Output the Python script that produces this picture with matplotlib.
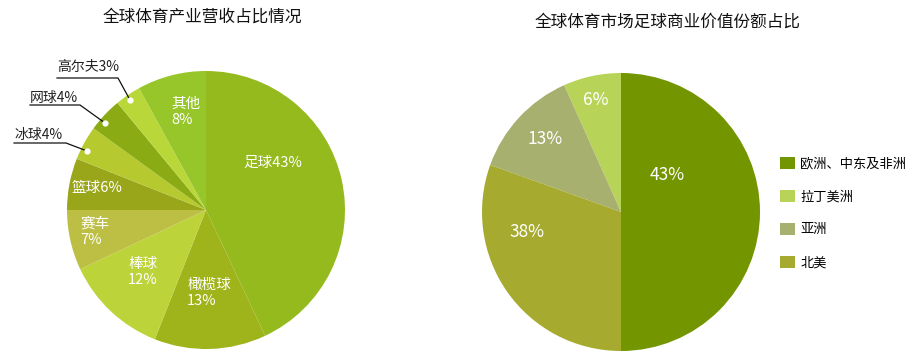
import matplotlib
matplotlib.use('Agg')
import matplotlib.pyplot as plt

plt.rcParams['font.family'] = ['Noto Sans CJK SC', 'DejaVu Sans']

# 左图：全球体育产业营收占比
sports = ['足球', '橄榄球', '棒球', '赛车', '篮球', '冰球', '网球', '高尔夫', '其他']
sports_share = [43, 13, 12, 7, 6, 4, 4, 3, 8]
sports_colors = ['#95ba1e', '#9fb31a', '#bdd33a', '#bdbf45', '#9aa61a',
                 '#b6c92e', '#8aab14', '#bad73a', '#97c62a']

# 右图：足球商业价值份额（扇区按原图面积量取，标签为原图文字）
regions = ['欧洲、中东及非洲', '拉丁美洲', '亚洲', '北美']
region_area = [50, 6.7, 12.8, 30.5]
region_labels = ['43%', '6%', '13%', '38%']
region_colors = ['#739600', '#b8d458', '#a8b070', '#a6ab30']

W, H = 906, 360
fig = plt.figure(figsize=(W / 100, H / 100), dpi=100)
ax = fig.add_axes([0, 0, 1, 1])


def py(y):
    # 以像素为单位（从顶部算起）转换成数据坐标
    return H - y


# 左饼图
c1 = (206, py(210))
wedges1, _ = ax.pie(sports_share, colors=sports_colors, startangle=90,
                    counterclock=False, center=c1, radius=139,
                    wedgeprops=dict(linewidth=0))

# 扇区内文字
inner = {
    '足球': ((273, 163), 'center', '足球43%'),
    '橄榄球': ((209, 293), 'center', '橄榄球\n13%'),
    '棒球': ((143, 272), 'center', '棒球\n12%'),
    '赛车': ((80, 232), 'left', '赛车\n7%'),
    '篮球': ((97, 188), 'center', '篮球6%'),
    '其他': ((171, 112), 'left', '其他\n8%'),
}
for name, ((x, y), ha, txt) in inner.items():
    ax.text(x, py(y), txt, color='white', fontsize=10.5, ha=ha, va='center',
            linespacing=1.25, multialignment='left')

# 外部引线标注
outer = [
    ('高尔夫', 3, (57, 67), (57, 118, 78), (130, 100)),
    ('网球', 4, (30, 98), (30, 80, 105), (105, 123)),
    ('冰球', 4, (14, 135), (14, 66, 143), (87, 151)),
]
for name, v, (tx, ty), (lx0, lx1, ly), (dx, dy) in outer:
    ax.text(tx, py(ty), f'{name}{v}%', fontsize=10, color='#222222',
            ha='left', va='center')
    ax.plot([lx0, lx1, dx], [py(ly), py(ly), py(dy)], color='#111111', lw=0.9)
    ax.plot(dx, py(dy), 'o', ms=3.5, mfc='white', mec='white')

ax.text(202, py(17), '全球体育产业营收占比情况', fontsize=12, ha='center',
        va='center', color='#111111')

# 右饼图
c2 = (621, py(212))
wedges2, _ = ax.pie(region_area, colors=region_colors, startangle=-90,
                    counterclock=True, center=c2, radius=139,
                    wedgeprops=dict(linewidth=0))

pct_pos = [(667, 175), (596, 100), (545, 139), (527, 232)]
for (x, y), lab in zip(pct_pos, region_labels):
    ax.text(x, py(y), lab, color='white', fontsize=12.5, ha='center', va='center')

ax.text(668, py(22), '全球体育市场足球商业价值份额占比', fontsize=12,
        ha='center', va='center', color='#111111')

ax.legend(wedges2, regions, loc='center left',
          bbox_to_anchor=(780 / W, 1 - 213 / H), frameon=False,
          fontsize=9.5, handlelength=1.1, handleheight=1.1, handletextpad=0.45,
          labelspacing=1.45, borderpad=0, borderaxespad=0)

ax.set_xlim(0, W)
ax.set_ylim(0, H)
ax.set_aspect('equal')
ax.axis('off')

fig.savefig('out.png', dpi=100, facecolor='white')
